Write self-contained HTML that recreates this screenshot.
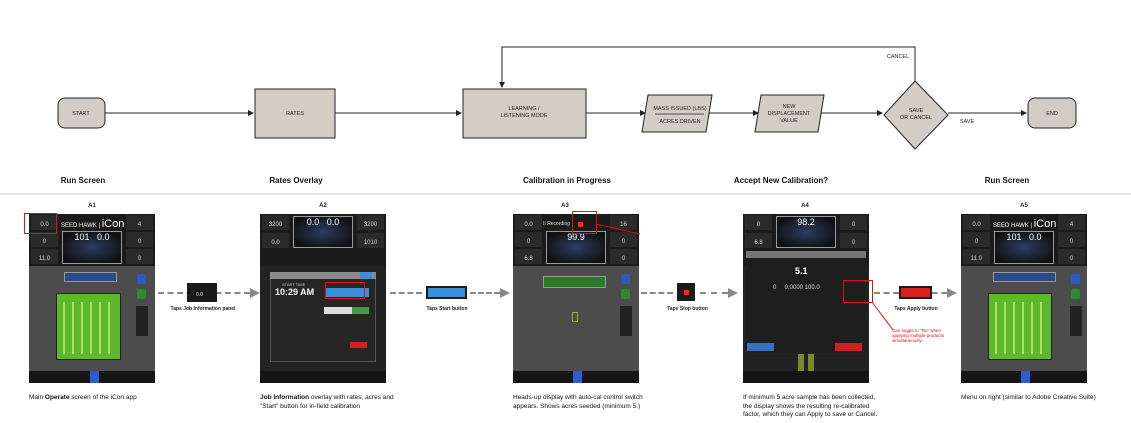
<!DOCTYPE html>
<html><head><meta charset="utf-8">
<style>
*{margin:0;padding:0;box-sizing:border-box}
body{width:1131px;height:423px;background:#fff;position:relative;overflow:hidden;font-family:"Liberation Sans",sans-serif;color:#111}
.a{position:absolute}
.lbl{font-size:6px;color:#222;text-align:center}
.cap{font-size:6.5px;line-height:8.5px;color:#111}
.scr{position:absolute;width:126px;height:169px;background:#4c4c4c;overflow:hidden}
.top{position:absolute;left:0;top:0;width:126px;height:52px;background:#1b1b1b}
.tile{position:absolute;width:27px;height:15px;background:#2a2a2a;color:#ddd;font-size:6px;text-align:center;line-height:20px}
.disp{position:absolute;left:33px;top:17px;width:60px;height:33px;border:1px solid #999;background:radial-gradient(#2c3d63,#111 80%);color:#fff;font-size:9px;text-align:center}
.bot{position:absolute;left:0;top:157px;width:126px;height:12px;background:#151515}
.btn{position:absolute;width:9px;height:10px;border-radius:2px}
.field{position:absolute;background:#5cb82a;border:1px solid #222}
.stripes{position:absolute;left:6px;top:8px;width:52px;height:52px;background:repeating-linear-gradient(90deg,#c8f070 0 2px,transparent 2px 9px);opacity:.75}
.dash{position:absolute;height:0;border-top:2px dashed #888}
.ah{position:absolute;width:0;height:0;border-top:5px solid transparent;border-bottom:5px solid transparent;border-left:10px solid #888}
.red{position:absolute;border:1.3px solid #e01010}
.logo{position:absolute;left:32px;top:4px;color:#fff;font-size:6px;white-space:nowrap}
.logo span{font-size:11px}
</style></head><body>

<svg class="a" style="left:0;top:0" width="1131" height="200">
<defs><marker id="m" markerWidth="6" markerHeight="6" refX="5" refY="3" orient="auto"><path d="M0,0 L6,3 L0,6z" fill="#222"/></marker></defs>
<g stroke="#222" stroke-width="1" fill="none">
<line x1="105" y1="113" x2="253" y2="113" marker-end="url(#m)"/>
<line x1="335" y1="113" x2="461" y2="113" marker-end="url(#m)"/>
<line x1="586" y1="113" x2="645" y2="113" marker-end="url(#m)"/>
<line x1="707" y1="113" x2="758" y2="113" marker-end="url(#m)"/>
<line x1="819" y1="113" x2="882" y2="113" marker-end="url(#m)"/>
<line x1="948" y1="113" x2="1026" y2="113" marker-end="url(#m)"/>
<polyline points="915,81 915,47 502,47 502,87" marker-end="url(#m)"/>
</g>
<g stroke="#222" stroke-width="1" fill="#d2cec6">
<rect x="58" y="98" width="47" height="30" rx="7"/>
<rect x="255" y="89" width="80" height="49"/>
<rect x="463" y="89" width="123" height="49"/>
<polygon points="648,95 712,95 706,132 642,132"/>
<polygon points="761,95 824,95 818,132 755,132"/>
<polygon points="915,81 948,115 915,149 884,115"/>
<rect x="1028" y="98" width="48" height="30" rx="7"/>
</g>
<line x1="655" y1="114" x2="704" y2="114" stroke="#222" stroke-width="0.8"/>
<g font-family="Liberation Sans, sans-serif" font-size="5.5" fill="#222" text-anchor="middle">
<text x="81" y="115">START</text>
<text x="295" y="115">RATES</text>
<text x="524" y="110">LEARNING /</text><text x="524" y="117">LISTENING MODE</text>
<text x="680" y="110">MASS ISSUED (LBS)</text><text x="680" y="123">ACRES DRIVEN</text>
<text x="789" y="108">NEW</text><text x="789" y="115">DISPLACEMENT</text><text x="789" y="122">VALUE</text>
<text x="916" y="112">SAVE</text><text x="916" y="119">OR CANCEL</text>
<text x="1052" y="115">END</text>
<text x="898" y="58">CANCEL</text>
<text x="967" y="123">SAVE</text>
</g>
<g font-family="Liberation Sans, sans-serif" font-size="8" font-weight="bold" fill="#111" text-anchor="middle">
<text x="83" y="183">Run Screen</text>
<text x="296" y="183">Rates Overlay</text>
<text x="567" y="183">Calibration in Progress</text>
<text x="781" y="183">Accept New Calibration?</text>
<text x="1007" y="183">Run Screen</text>
</g>
<line x1="0" y1="194" x2="1131" y2="194" stroke="#c8c8c0" stroke-width="1"/>
</svg>

<div class="a lbl" style="left:82px;top:203px;width:20px;font-weight:bold">A1</div>
<div class="a lbl" style="left:313px;top:203px;width:20px;font-weight:bold">A2</div>
<div class="a lbl" style="left:555px;top:203px;width:20px;font-weight:bold">A3</div>
<div class="a lbl" style="left:795px;top:203px;width:20px;font-weight:bold">A4</div>
<div class="a lbl" style="left:1014px;top:203px;width:20px;font-weight:bold">A5</div>

<!-- A1 -->
<div class="scr" style="left:29px;top:214px">
 <div class="top">
  <div class="tile" style="left:2px;top:1px">0.0</div>
  <div class="tile" style="left:2px;top:18px">0</div>
  <div class="tile" style="left:2px;top:35px">11.0</div>
  <div class="tile" style="left:97px;top:1px">4</div>
  <div class="tile" style="left:97px;top:18px">0</div>
  <div class="tile" style="left:97px;top:35px">0</div>
  <div class="logo">SEED HAWK | <span>iCon</span></div>
  <div class="disp">101 &nbsp; 0.0</div>
 </div>
 <div class="a" style="left:35px;top:58px;width:53px;height:10px;background:#2a4a8a;border:1px solid #999"></div>
 <div class="field" style="left:27px;top:79px;width:65px;height:67px"><div class="stripes"></div></div>
 <div class="btn" style="left:108px;top:60px;background:#2a5cc0"></div>
 <div class="btn" style="left:108px;top:75px;background:#2e8a30"></div>
 <div class="a" style="left:107px;top:92px;width:12px;height:30px;background:#222"></div>
 <div class="bot"><div class="a" style="left:61px;top:0;width:9px;height:12px;background:#2c5cd0"></div></div>
</div>
<div class="red" style="left:24px;top:213px;width:33px;height:21px"></div>

<div class="dash" style="left:158px;top:292px;width:92px"></div>
<div class="ah" style="left:250px;top:288px"></div>
<div class="a" style="left:187px;top:283px;width:30px;height:19px;background:#1b1b1b;color:#ccc;font-size:5px;padding:9px 0 0 9px">0.0</div>
<div class="a lbl" style="left:170px;top:306px;width:66px;font-weight:bold;font-size:5px">Taps Job Information panel</div>

<!-- A2 -->
<div class="scr" style="left:260px;top:214px;background:#222">
 <div class="top">
  <div class="tile" style="left:2px;top:1px">3200</div>
  <div class="tile" style="left:2px;top:19px">0.0</div>
  <div class="tile" style="left:97px;top:1px">3200</div>
  <div class="tile" style="left:97px;top:19px">1010</div>
  <div class="disp" style="top:2px;height:32px">0.0 &nbsp; 0.0</div>
 </div>
 <div class="a" style="left:10px;top:58px;width:106px;height:90px;background:#262626;border:1px solid #555"></div>
 <div class="a" style="left:10px;top:58px;width:106px;height:7px;background:#8a8a8a"><div style="margin-left:90px;width:12px;height:7px;background:#3a8fd8"></div></div>
 <div class="a" style="left:22px;top:68px;color:#ccc;font-size:4px">START TIME</div>
 <div class="a" style="left:15px;top:73px;color:#fff;font-size:9px;font-weight:bold">10:29 AM</div>
 <div class="a" style="left:66px;top:74px;width:43px;height:9px;background:#3a8fd8"></div>
 <div class="a" style="left:64px;top:93px;width:45px;height:7px;background:#ddd"><div style="margin-left:28px;height:7px;background:#3aa03a"></div></div>
 <div class="a" style="left:90px;top:128px;width:17px;height:6px;background:#d02020"></div>
 <div class="bot"></div>
</div>
<div class="red" style="left:325px;top:282px;width:40px;height:17px"></div>

<div class="dash" style="left:390px;top:292px;width:32px"></div>
<div class="dash" style="left:470px;top:292px;width:30px"></div>
<div class="ah" style="left:500px;top:288px"></div>
<div class="a" style="left:426px;top:286px;width:41px;height:13px;background:#1b1b1b;padding:2px"><div style="height:9px;background:#3a8fd8"></div></div>
<div class="a lbl" style="left:418px;top:306px;width:58px;font-weight:bold;font-size:5px">Taps Start button</div>

<!-- A3 -->
<div class="scr" style="left:513px;top:214px">
 <div class="top">
  <div class="tile" style="left:2px;top:1px">0.0</div>
  <div class="tile" style="left:2px;top:18px">0</div>
  <div class="tile" style="left:2px;top:35px">6.8</div>
  <div class="tile" style="left:97px;top:1px">16</div>
  <div class="tile" style="left:97px;top:18px">0</div>
  <div class="tile" style="left:97px;top:35px">0</div>
  <div class="a" style="left:30px;top:7px;color:#ddd;font-size:5px">II Recording</div>
  <div class="a" style="left:65px;top:8px;width:5px;height:5px;background:#f22"></div>
  <div class="disp">99.9</div>
 </div>
 <div class="a" style="left:30px;top:62px;width:63px;height:12px;background:#2a7a2a;border:1px solid #999"></div>
 <div class="btn" style="left:108px;top:60px;background:#2a5cc0"></div>
 <div class="btn" style="left:108px;top:75px;background:#2e8a30"></div>
 <div class="a" style="left:107px;top:92px;width:12px;height:30px;background:#222"></div>
 <div class="a" style="left:59px;top:98px;width:6px;height:10px;border:1px solid #9a3;"></div>
 <div class="bot"><div class="a" style="left:60px;top:0;width:9px;height:12px;background:#2c5cd0"></div></div>
</div>
<div class="red" style="left:572px;top:211px;width:25px;height:23px"></div>
<svg class="a" style="left:596px;top:222px" width="50" height="15"><line x1="0" y1="2" x2="44" y2="12" stroke="#e01010" stroke-width="1"/></svg>

<div class="dash" style="left:641px;top:292px;width:32px"></div>
<div class="dash" style="left:700px;top:292px;width:28px"></div>
<div class="ah" style="left:728px;top:288px"></div>
<div class="a" style="left:677px;top:283px;width:18px;height:18px;background:#1b1b1b"><div style="margin:7px 0 0 7px;width:5px;height:5px;background:#f22"></div></div>
<div class="a lbl" style="left:660px;top:306px;width:55px;font-weight:bold;font-size:5px">Taps Stop button</div>

<!-- A4 -->
<div class="scr" style="left:743px;top:214px;background:#222">
 <div class="top">
  <div class="tile" style="left:2px;top:1px">0</div>
  <div class="tile" style="left:2px;top:19px">6.8</div>
  <div class="tile" style="left:97px;top:1px">0</div>
  <div class="tile" style="left:97px;top:19px">0</div>
  <div class="disp" style="top:2px;height:32px">98.2</div>
 </div>
 <div class="a" style="left:3px;top:37px;width:120px;height:7px;background:#777"></div>
 <div class="a" style="left:3px;top:44px;width:120px;height:95px;background:#1e1e1e"></div>
 <div class="a" style="left:52px;top:52px;color:#fff;font-size:9px;font-weight:bold">5.1</div>
 <div class="a" style="left:30px;top:71px;color:#ddd;font-size:6px">0 &nbsp;&nbsp;&nbsp; 0.0000 100.0</div>
 <div class="a" style="left:4px;top:129px;width:27px;height:8px;background:#3a70c0"></div>
 <div class="a" style="left:92px;top:129px;width:27px;height:8px;background:#d02020"></div>
 <div class="a" style="left:55px;top:140px;width:6px;height:17px;background:#7a8a2a"></div>
 <div class="a" style="left:65px;top:140px;width:6px;height:17px;background:#7a8a2a"></div>
 <div class="bot"></div>
</div>
<div class="red" style="left:843px;top:280px;width:30px;height:23px"></div>
<svg class="a" style="left:871px;top:302px" width="25" height="30"><line x1="1" y1="0" x2="22" y2="28" stroke="#e01010" stroke-width="1"/></svg>
<div class="a" style="left:892px;top:328px;color:#e01010;font-size:4.5px;line-height:5px;width:55px">Can toggle to "No" when applying multiple products simultaneously.</div>

<div class="dash" style="left:874px;top:292px;width:25px"></div>
<div class="dash" style="left:932px;top:292px;width:15px"></div>
<div class="ah" style="left:947px;top:288px"></div>
<div class="a" style="left:899px;top:286px;width:33px;height:13px;background:#1b1b1b;padding:2px"><div style="height:9px;background:#d82020"></div></div>
<div class="a lbl" style="left:890px;top:306px;width:52px;font-weight:bold;font-size:5px">Taps Apply button</div>

<!-- A5 -->
<div class="scr" style="left:961px;top:214px">
 <div class="top">
  <div class="tile" style="left:2px;top:1px">0.0</div>
  <div class="tile" style="left:2px;top:18px">0</div>
  <div class="tile" style="left:2px;top:35px">11.0</div>
  <div class="tile" style="left:97px;top:1px">4</div>
  <div class="tile" style="left:97px;top:18px">0</div>
  <div class="tile" style="left:97px;top:35px">0</div>
  <div class="logo">SEED HAWK | <span>iCon</span></div>
  <div class="disp">101 &nbsp; 0.0</div>
 </div>
 <div class="a" style="left:32px;top:58px;width:63px;height:10px;background:#2a4a8a;border:1px solid #999"></div>
 <div class="field" style="left:27px;top:79px;width:64px;height:67px"><div class="stripes"></div></div>
 <div class="btn" style="left:110px;top:60px;background:#2a5cc0"></div>
 <div class="btn" style="left:110px;top:75px;background:#2e8a30"></div>
 <div class="a" style="left:109px;top:92px;width:12px;height:30px;background:#222"></div>
 <div class="bot"><div class="a" style="left:60px;top:0;width:9px;height:12px;background:#2c5cd0"></div></div>
</div>

<div class="a cap" style="left:29px;top:394px">Main <b>Operate</b> screen of the iCon app</div>
<div class="a cap" style="left:260px;top:394px;width:140px"><b>Job Information</b> overlay with rates, acres and "Start" button for in-field calibration</div>
<div class="a cap" style="left:513px;top:394px;width:135px">Heads-up display with auto-cal control switch appears. Shows acres seeded (minimum 5.)</div>
<div class="a cap" style="left:743px;top:394px;width:140px">If minimum 5 acre sample has been collected, the display shows the resulting re-calibrated factor, which they can Apply to save or Cancel.</div>
<div class="a cap" style="left:961px;top:394px;width:150px">Menu on right (similar to Adobe Creative Suite)</div>

</body></html>
